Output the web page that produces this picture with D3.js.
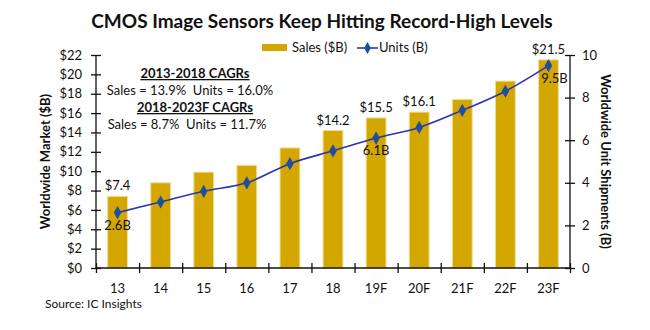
<!DOCTYPE html>
<html>
<head>
<meta charset="utf-8">
<script src="https://cdn.jsdelivr.net/npm/d3@7"></script>
<style>
  body { margin: 0; background: #fff; }
  svg text { font-family: Lato, "Open Sans", sans-serif; fill: #111; }
  .tick text { font-size: 13px; }
  .axis path, .axis line { stroke: #111; stroke-width: 1.3; }
</style>
</head>
<body>
<svg id="chart" width="650" height="330"></svg>
<script>
const years = ['13', '14', '15', '16', '17', '18', '19F', '20F', '21F', '22F', '23F'];
const sales = [7.4, 8.8, 9.9, 10.6, 12.4, 14.2, 15.5, 16.1, 17.4, 19.3, 21.5];
const units = [2.6, 3.1, 3.6, 4.0, 4.9, 5.5, 6.1, 6.6, 7.4, 8.3, 9.5];
const salesTicks = [0, 2, 4, 6, 8, 10, 12, 14, 16, 18, 20, 22];
const unitTicks = [0, 2, 4, 6, 8, 10];
const salesLabelYears = ['13', '18', '19F', '20F', '23F'];
const unitLabelYears = ['13', '19F', '23F'];

const plotLeft = 96;
const plotRight = 570;
const plotTop = 55;
const plotBottom = 268;

const svg = d3.select('#chart');

const x = d3.scaleBand()
  .domain(years)
  .range([plotLeft, plotRight])
  .paddingInner(0.54)
  .paddingOuter(0.27);

const ySales = d3.scaleLinear().domain([0, 22]).range([plotBottom, plotTop]);
const yUnits = d3.scaleLinear().domain([0, 10]).range([plotBottom, plotTop]);

// bars
svg.append('g')
  .selectAll('rect')
  .data(sales)
  .enter()
  .append('rect')
  .attr('x', (d, i) => x(years[i]))
  .attr('y', (d) => ySales(d))
  .attr('width', x.bandwidth())
  .attr('height', (d) => plotBottom - ySales(d))
  .attr('fill', '#d4a700')
  .attr('stroke', '#f3dc95')
  .attr('stroke-width', 1);

// left axis
const leftAxis = svg.append('g')
  .attr('class', 'axis')
  .attr('transform', `translate(${plotLeft},0)`)
  .call(d3.axisLeft(ySales).tickValues(salesTicks).tickSize(5).tickPadding(8).tickFormat((d) => `$${d}`));
leftAxis.select('.domain').attr('d', `M0,${plotTop}V${plotBottom}`);
leftAxis.selectAll('.tick line').attr('x1', 5);
leftAxis.selectAll('.tick text').attr('x', -14);

// right axis
const rightAxis = svg.append('g')
  .attr('class', 'axis')
  .attr('transform', `translate(${plotRight},0)`)
  .call(d3.axisRight(yUnits).tickValues(unitTicks).tickSize(5).tickPadding(8));
rightAxis.select('.domain').attr('d', `M0,${plotTop}V${plotBottom}`);
rightAxis.selectAll('.tick line').attr('x1', -5);
rightAxis.selectAll('.tick text').attr('x', 12);

// bottom axis with ticks at category boundaries
const xEdges = d3.scaleLinear().domain([0, years.length]).range([plotLeft, plotRight]);
const bottomAxis = svg.append('g')
  .attr('class', 'axis')
  .attr('transform', `translate(0,${plotBottom})`)
  .call(d3.axisBottom(xEdges).tickValues(d3.range(years.length + 1)).tickSize(5).tickFormat(''));
bottomAxis.select('.domain').attr('d', `M${plotLeft},0H${plotRight}`);
bottomAxis.selectAll('.tick line').attr('y1', -5);

svg.append('g')
  .selectAll('text')
  .data(years)
  .enter()
  .append('text')
  .attr('x', (d) => x(d) + x.bandwidth() / 2)
  .attr('y', 293)
  .attr('text-anchor', 'middle')
  .attr('font-size', 13)
  .text((d) => d);

// units line
const line = d3.line()
  .x((d, i) => x(years[i]) + x.bandwidth() / 2)
  .y((d) => yUnits(d))
  .curve(d3.curveCatmullRom.alpha(0.5));

svg.append('path')
  .datum(units)
  .attr('d', line)
  .attr('fill', 'none')
  .attr('stroke', '#2a35b5')
  .attr('stroke-width', 1.6);

svg.append('g')
  .selectAll('path')
  .data(units)
  .enter()
  .append('path')
  .attr('d', d3.symbol(d3.symbolDiamond, 50))
  .attr('transform', (d, i) => `translate(${x(years[i]) + x.bandwidth() / 2},${yUnits(d)})`)
  .attr('fill', '#1f4ea0');

// value labels
svg.append('g')
  .selectAll('text')
  .data(salesLabelYears)
  .enter()
  .append('text')
  .attr('x', (d) => x(d) + x.bandwidth() / 2)
  .attr('y', (d) => ySales(sales[years.indexOf(d)]) - 6)
  .attr('text-anchor', 'middle')
  .attr('font-size', 13)
  .text((d) => `$${sales[years.indexOf(d)]}`);

svg.append('g')
  .selectAll('text')
  .data(unitLabelYears)
  .enter()
  .append('text')
  .attr('x', (d) => x(d) + x.bandwidth() / 2 + (d === '23F' ? 6 : 0))
  .attr('y', (d) => yUnits(units[years.indexOf(d)]) + 17)
  .attr('text-anchor', 'middle')
  .attr('font-size', 13)
  .text((d) => `${units[years.indexOf(d)]}B`);

// title
svg.append('text')
  .attr('x', 322)
  .attr('y', 28)
  .attr('text-anchor', 'middle')
  .attr('font-size', 19)
  .attr('font-weight', 'bold')
  .text('CMOS Image Sensors Keep Hitting Record-High Levels');

// legend
const legend = svg.append('g');
legend.append('rect')
  .attr('x', 262).attr('y', 44).attr('width', 25).attr('height', 7)
  .attr('fill', '#d4a700');
legend.append('text')
  .attr('x', 292).attr('y', 52).attr('font-size', 13)
  .text('Sales ($B)');
legend.append('line')
  .attr('x1', 357).attr('x2', 378).attr('y1', 48).attr('y2', 48)
  .attr('stroke', '#2a35b5').attr('stroke-width', 1.6);
legend.append('path')
  .attr('d', d3.symbol(d3.symbolDiamond, 40))
  .attr('transform', 'translate(367.5,48)')
  .attr('fill', '#1f4ea0');
legend.append('text')
  .attr('x', 379).attr('y', 52).attr('font-size', 13)
  .text('Units (B)');

// CAGR notes
const notes = svg.append('g').attr('text-anchor', 'middle').attr('font-size', 13);
notes.append('text').attr('x', 195).attr('y', 78)
  .attr('font-weight', 'bold').attr('text-decoration', 'underline')
  .text('2013-2018 CAGRs');
notes.append('text').attr('x', 190).attr('y', 95)
  .attr('xml:space', 'preserve')
  .text('Sales = 13.9%  Units = 16.0%');
notes.append('text').attr('x', 195).attr('y', 112)
  .attr('font-weight', 'bold').attr('text-decoration', 'underline')
  .text('2018-2023F CAGRs');
notes.append('text').attr('x', 187).attr('y', 129)
  .attr('xml:space', 'preserve')
  .text('Sales = 8.7%  Units = 11.7%');

// axis titles
svg.append('text')
  .attr('transform', `translate(50,${(plotTop + plotBottom) / 2}) rotate(-90)`)
  .attr('text-anchor', 'middle')
  .attr('font-size', 13)
  .attr('font-weight', 'bold')
  .text('Worldwide Market ($B)');

svg.append('text')
  .attr('transform', `translate(601,${(plotTop + plotBottom) / 2}) rotate(90)`)
  .attr('text-anchor', 'middle')
  .attr('font-size', 13)
  .attr('font-weight', 'bold')
  .text('Worldwide Unit Shipments (B)');

svg.append('text')
  .attr('x', 45)
  .attr('y', 308)
  .attr('font-size', 12)
  .text('Source: IC Insights');
</script>
</body>
</html>
